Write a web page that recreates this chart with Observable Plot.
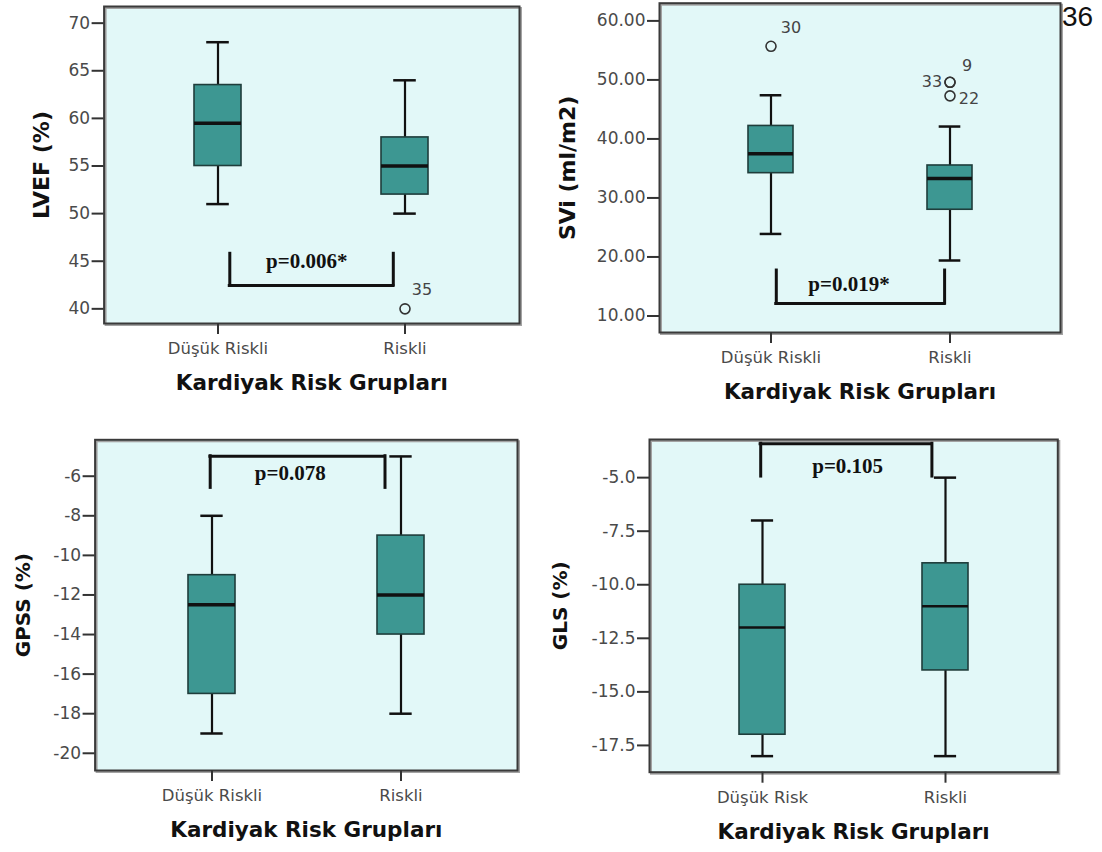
<!DOCTYPE html>
<html>
<head>
<meta charset="utf-8">
<script src="https://cdn.jsdelivr.net/npm/d3@7"></script>
<script src="https://cdn.jsdelivr.net/npm/@observablehq/plot@0.6"></script>
<style>
  html, body { margin: 0; padding: 0; background: #ffffff; }
  body { width: 1102px; height: 852px; position: relative; overflow: hidden; font-family: "DejaVu Sans", sans-serif; }
  .panel { position: absolute; }
  #corner { position: absolute; left: 1062px; top: 3px; width: 34px; height: 32px; }
  #corner span { position: absolute; left: 0; top: 0; font: 28px/28px "Liberation Sans", Arial, sans-serif; color: #111; white-space: nowrap; }
</style>
</head>
<body>
<div id="p1" class="panel" style="left:0px;top:0px"></div>
<div id="p2" class="panel" style="left:540px;top:0px"></div>
<div id="p3" class="panel" style="left:0px;top:430px"></div>
<div id="p4" class="panel" style="left:540px;top:430px"></div>
<div id="corner"><span>36</span></div>
<script>
// ---------------- data ----------------
const groupsA = ["Düşük Riskli", "Riskli"];
const groupsB = ["Düşük Risk", "Riskli"];
const xTitle = "Kardiyak Risk Grupları";

// LVEF (%)
const lvefMin = [51, 50];
const lvefQ1 = [55, 52];
const lvefMedian = [59.5, 55];
const lvefQ3 = [63.5, 58];
const lvefMax = [68, 64];
const lvefOutGroup = ["Riskli"];
const lvefOutValue = [40];
const lvefOutLabel = ["35"];
const lvefTicks = [40, 45, 50, 55, 60, 65, 70];
const lvefDomain = [38.46, 71.75];
const lvefP = "p=0.006*";
const lvefPValueY = 45.0;
const lvefBracket = [45.78, 42.45]; // tip, bar

// SVi (ml/m2)
const sviMin = [23.9, 19.4];
const sviQ1 = [34.2, 28.0];
const sviMedian = [37.5, 33.3];
const sviQ3 = [42.2, 35.5];
const sviMax = [47.4, 42.1];
const sviOutGroup = ["Düşük Riskli", "Riskli", "Riskli", "Riskli"];
const sviOutValue = [55.7, 49.6, 49.6, 47.3];
const sviOutLabel = ["30", "33", "9", "22"];
const sviTicks = [10, 20, 30, 40, 50, 60];
const sviDomain = [7.2, 63.0];
const sviP = "p=0.019*";
const sviPValueY = 15.3;
const sviBracket = [17.7, 12.1];

// GPSS (%)
const gpssMin = [-19, -18];
const gpssQ1 = [-17, -14];
const gpssMedian = [-12.5, -12];
const gpssQ3 = [-11, -9];
const gpssMax = [-8, -5];
const gpssTicks = [-20, -18, -16, -14, -12, -10, -8, -6];
const gpssDomain = [-20.87, -4.16];
const gpssP = "p=0.078";
const gpssPValueY = -5.84;
const gpssBracket = [-6.59, -4.99];

// GLS (%)
const glsMin = [-18, -18];
const glsQ1 = [-17, -14];
const glsMedian = [-12, -11];
const glsQ3 = [-10, -9];
const glsMax = [-7, -5];
const glsTicks = [-17.5, -15, -12.5, -10, -7.5, -5];
const glsDomain = [-18.75, -3.22];
const glsP = "p=0.105";
const glsPValueY = -4.48;
const glsBracket = [-4.95, -3.42];

// ---------------- drawing ----------------
const BG = "#E2F8F8";
const BOX = "#3d9792";
const BOXSTROKE = "#1f3d3b";
const INK = "#111111";
const TICKTXT = "#4a4a4a";

function panel(c) {
  const g = c.groups;
  const pi = 0.75;
  const W = c.width - c.ml - c.mr;
  const step = W / (g.length - pi + 2 * c.po);
  const bw = step * (1 - pi);
  const capInset = bw * 0.26;

  const outLabels = (c.outLabel || []).map((lab, i) =>
    Plot.text([lab], {
      x: [c.outGroup[i]], y: [c.outValue[i]], text: d => d,
      dx: c.labOff[i][0], dy: c.labOff[i][1],
      fontSize: 16, fill: "#444", fontFamily: "DejaVu Sans"
    })
  );

  const marks = [
    Plot.frame({fill: BG}),
    Plot.frame({stroke: "#a3a3a3", strokeWidth: 2, dx: 1.5, dy: 1.5}),
    Plot.frame({stroke: "#3a3a3a", strokeWidth: 2}),
    Plot.axisY(c.ticks, {
      tickSize: 12, tickPadding: 2, tickFormat: c.fmt, label: null,
      fontSize: 17, fill: TICKTXT, stroke: "#333", strokeWidth: 2
    }),
    Plot.axisX({
      tickSize: 11, tickPadding: 8, label: null,
      fontSize: 16.5, fill: TICKTXT, stroke: "#333", strokeWidth: 2
    }),
    // whiskers
    Plot.ruleX(g, {x: g, y1: c.q3, y2: c.max, stroke: INK, strokeWidth: 2.2}),
    Plot.ruleX(g, {x: g, y1: c.min, y2: c.q1, stroke: INK, strokeWidth: 2.2}),
    Plot.tickY(g, {x: g, y: c.max, insetLeft: capInset, insetRight: capInset, stroke: INK, strokeWidth: 2.5}),
    Plot.tickY(g, {x: g, y: c.min, insetLeft: capInset, insetRight: capInset, stroke: INK, strokeWidth: 2.5}),
    // boxes
    Plot.barY(g, {x: g, y1: c.q1, y2: c.q3, fill: BOX, stroke: BOXSTROKE, strokeWidth: 1.6}),
    Plot.tickY(g, {x: g, y: c.median, stroke: INK, strokeWidth: c.medW}),
    // outliers
    ...(c.outGroup ? [Plot.dot(c.outGroup, {x: c.outGroup, y: c.outValue, r: 5, stroke: "#333", strokeWidth: 1.6, fill: "none"})] : []),
    ...outLabels,
    // significance bracket
    Plot.ruleX([0], {x: [g[0]], y1: [c.bracket[0]], y2: [c.bracket[1]], dx: c.bL, stroke: INK, strokeWidth: 3, strokeLinecap: "square"}),
    Plot.ruleX([0], {x: [g[1]], y1: [c.bracket[0]], y2: [c.bracket[1]], dx: c.bR, stroke: INK, strokeWidth: 3, strokeLinecap: "square"}),
    Plot.ruleY([0], {y: [c.bracket[1]], x1: [g[0]], x2: [g[1]], insetLeft: bw / 2 + c.bL, insetRight: bw / 2 - c.bR, stroke: INK, strokeWidth: 3, strokeLinecap: "square"}),
    Plot.text([c.p], {y: [c.pY], text: d => d, dx: c.pDx, lineAnchor: "middle",
      fontFamily: "Liberation Serif", fontWeight: "bold", fontSize: 21, fill: INK}),
    // axis titles
    Plot.text([c.yTitle], {frameAnchor: "left", rotate: -90, dx: c.yTitleDx, text: d => d,
      textAnchor: "middle", lineAnchor: "middle", fontWeight: "bold", fontSize: c.yTitleSize, fill: INK, fontFamily: "DejaVu Sans"}),
    Plot.text([c.xTitle], {frameAnchor: "bottom", dy: 60, text: d => d,
      lineAnchor: "middle", fontWeight: "bold", fontSize: 21.5, fill: INK, fontFamily: "DejaVu Sans"})
  ];

  return Plot.plot({
    width: c.width, height: c.height,
    marginLeft: c.ml, marginRight: c.mr, marginTop: c.mt, marginBottom: c.mb,
    x: {type: "band", domain: g, paddingInner: pi, paddingOuter: c.po, axis: null},
    y: {domain: c.domain, axis: null},
    style: {fontFamily: "DejaVu Sans", background: "transparent", overflow: "visible", color: "#333"},
    marks
  });
}

const fmtInt = d => String(d);
const fmt2 = d => d.toFixed(2);
const fmt1 = d => d.toFixed(1);

document.getElementById("p1").append(panel({
  groups: groupsA, width: 540, height: 430, ml: 103.6, mr: 21, mt: 6, mb: 107, po: 0.481,
  min: lvefMin, q1: lvefQ1, median: lvefMedian, q3: lvefQ3, max: lvefMax,
  outGroup: lvefOutGroup, outValue: lvefOutValue, outLabel: lvefOutLabel, labOff: [[17, -19]],
  ticks: lvefTicks, domain: lvefDomain, fmt: fmtInt,
  p: lvefP, pY: lvefPValueY, pDx: -5, bracket: lvefBracket, bL: 11.8, bR: -11.7, medW: 3.5,
  yTitle: "LVEF (%)", yTitleDx: -62.6, yTitleSize: 22, xTitle
}));

document.getElementById("p2").append(panel({
  groups: groupsA, width: 562, height: 430, ml: 119, mr: 42, mt: 2.7, mb: 98, po: 0.49,
  min: sviMin, q1: sviQ1, median: sviMedian, q3: sviQ3, max: sviMax,
  outGroup: sviOutGroup, outValue: sviOutValue, outLabel: sviOutLabel,
  labOff: [[20, -18], [-18, 0], [17, -16], [19, 3]],
  ticks: sviTicks, domain: sviDomain, fmt: fmt2,
  p: sviP, pY: sviPValueY, pDx: -11, bracket: sviBracket, bL: 5.3, bR: -5.4, medW: 3.5,
  yTitle: "SVi (ml/m2)", yTitleDx: -92, yTitleSize: 22, xTitle
}));

document.getElementById("p3").append(panel({
  groups: groupsA, width: 540, height: 422, ml: 94.6, mr: 23, mt: 9.3, mb: 82, po: 0.489,
  min: gpssMin, q1: gpssQ1, median: gpssMedian, q3: gpssQ3, max: gpssMax,
  ticks: gpssTicks, domain: gpssDomain, fmt: fmtInt,
  p: gpssP, pY: gpssPValueY, pDx: -16, bracket: gpssBracket, bL: -1.8, bR: -16, medW: 3.5,
  yTitle: "GPSS (%)", yTitleDx: -71.6, yTitleSize: 20, xTitle
}));

document.getElementById("p4").append(panel({
  groups: groupsB, width: 562, height: 422, ml: 109, mr: 44.7, mt: 9, mb: 80.3, po: 0.49,
  min: glsMin, q1: glsQ1, median: glsMedian, q3: glsQ3, max: glsMax,
  ticks: glsTicks, domain: glsDomain, fmt: fmt1,
  p: glsP, pY: glsPValueY, pDx: -6, bracket: glsBracket, bL: -1.8, bR: -13.6, medW: 2.5,
  yTitle: "GLS (%)", yTitleDx: -89, yTitleSize: 20, xTitle
}));
</script>
</body>
</html>
